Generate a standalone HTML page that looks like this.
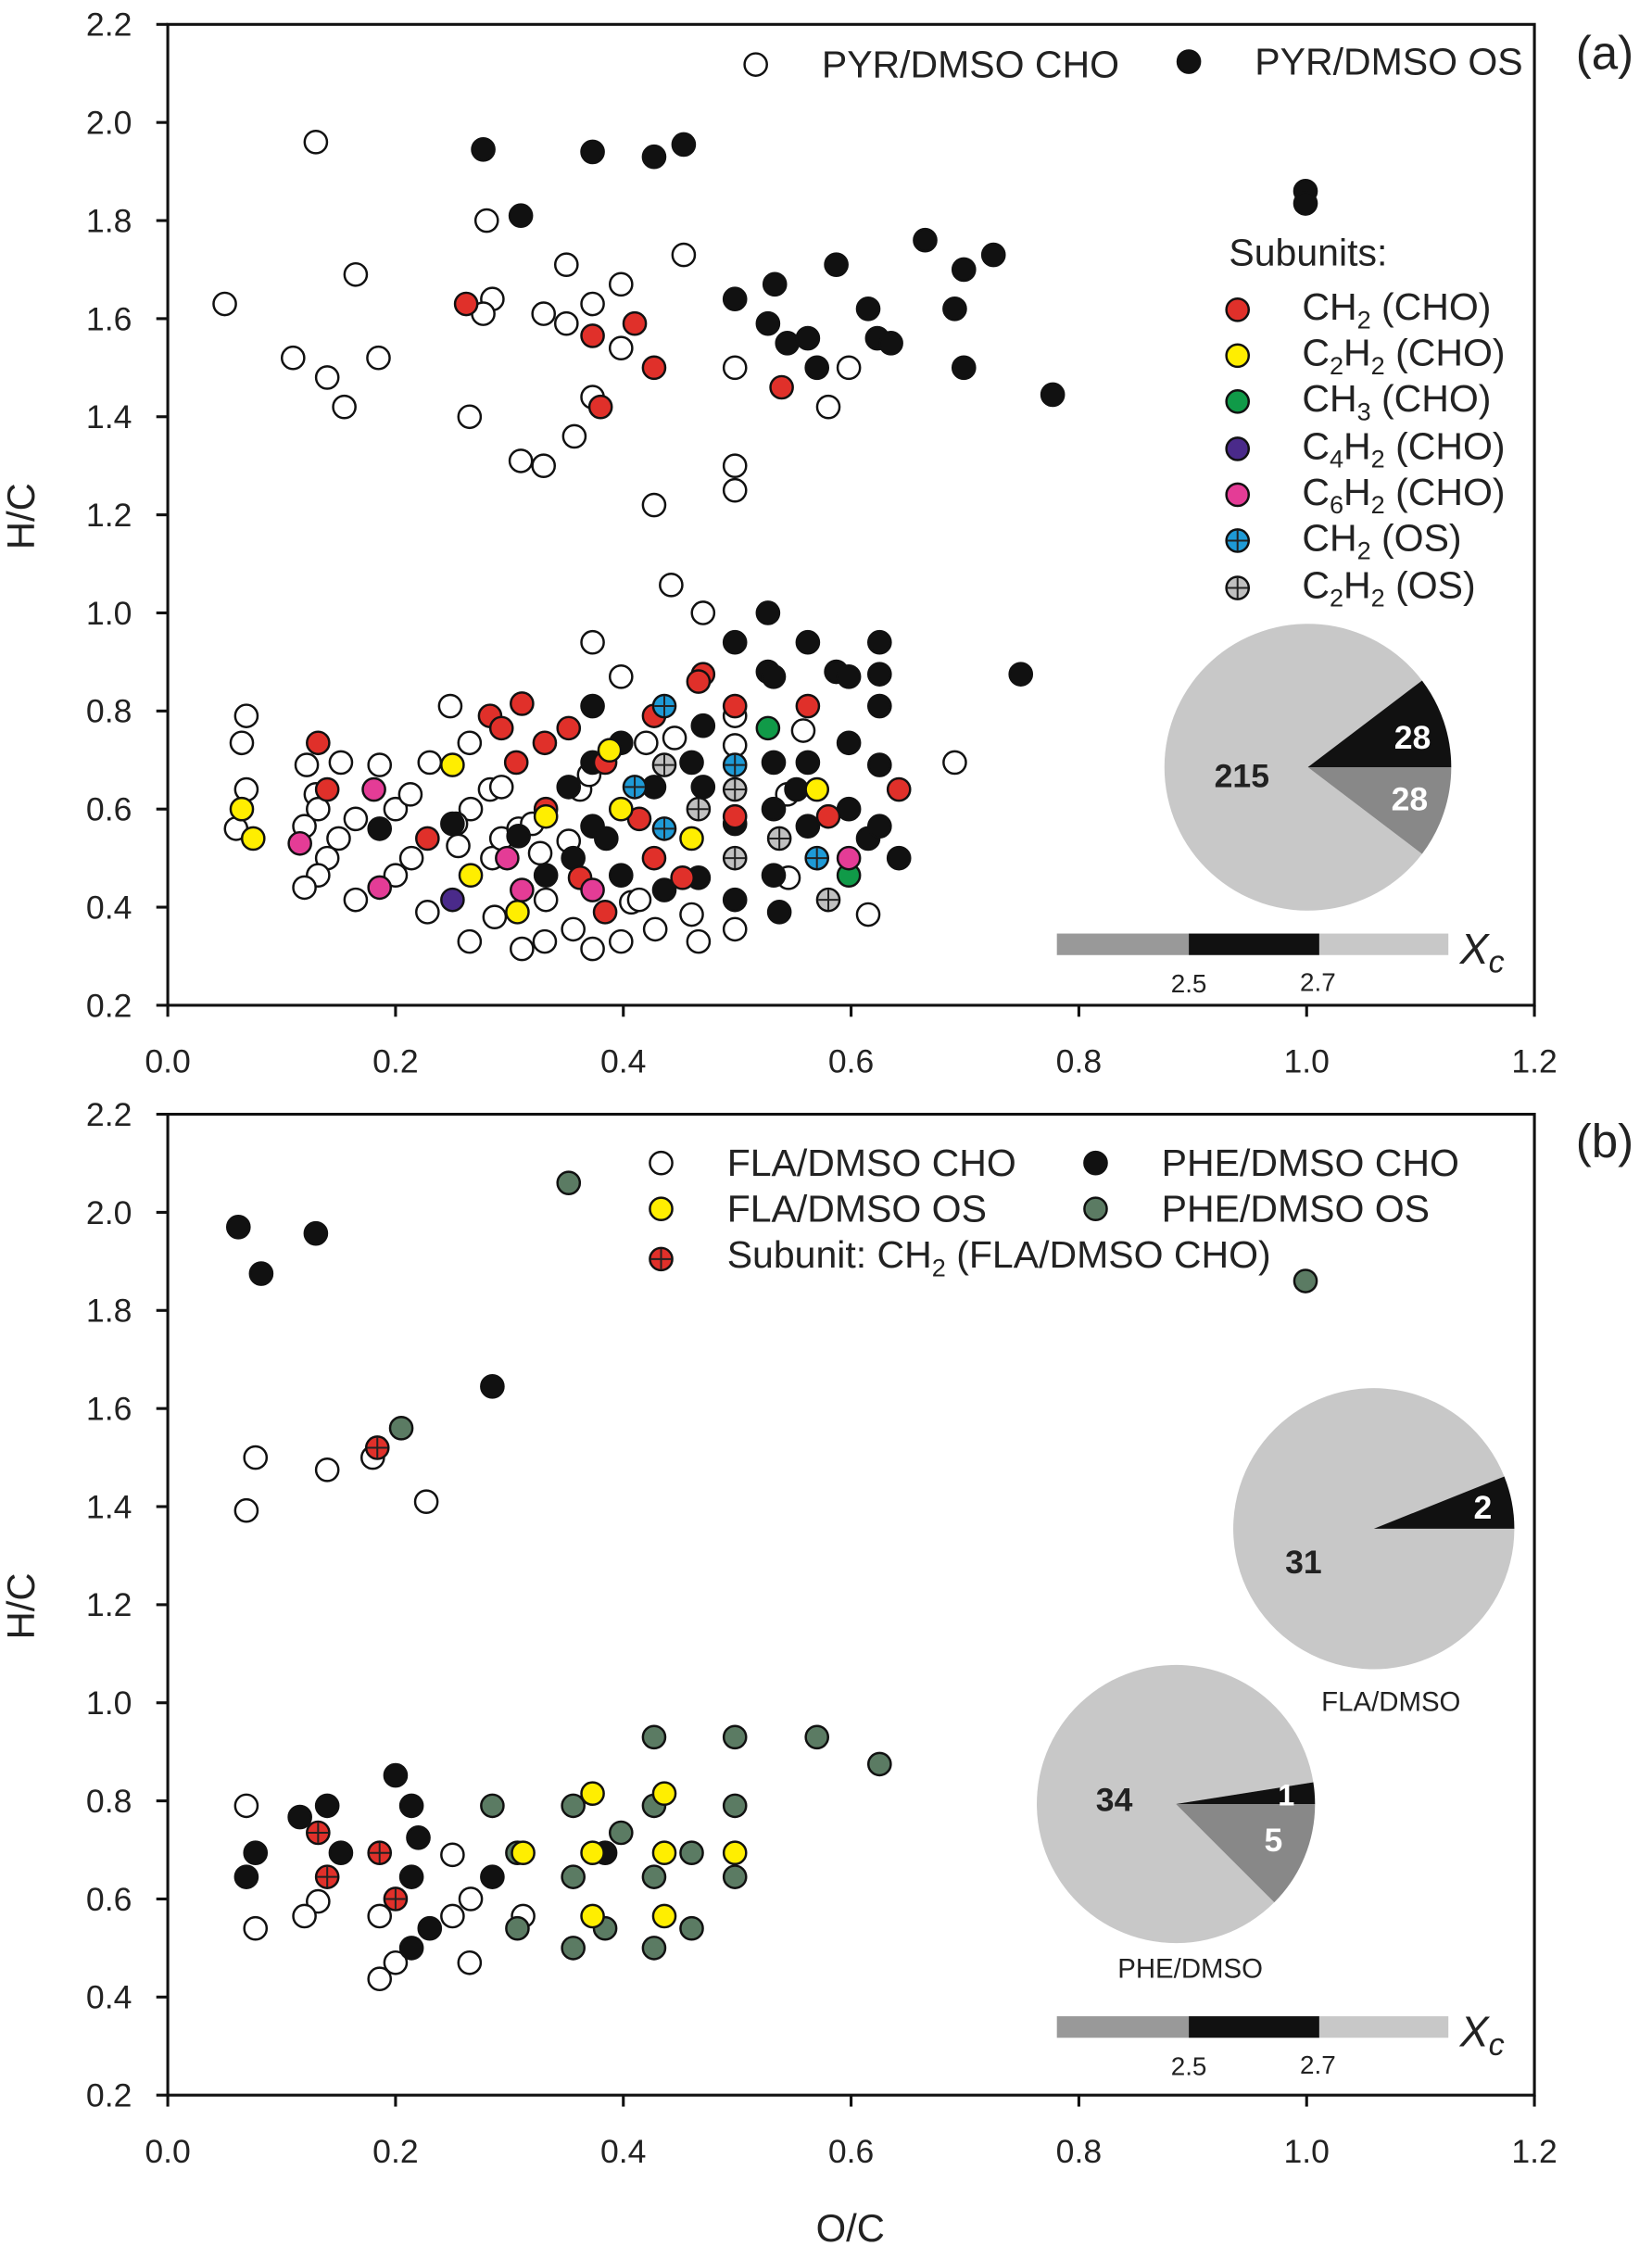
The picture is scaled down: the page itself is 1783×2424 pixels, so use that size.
<!DOCTYPE html>
<html><head><meta charset="utf-8"><style>
html,body{margin:0;padding:0;background:#fff}
svg{display:block;font-family:"Liberation Sans",Arial,sans-serif}
</style></head><body>
<svg id="chart" width="1783" height="2424" viewBox="0 0 1152 1566.2" preserveAspectRatio="none" xmlns="http://www.w3.org/2000/svg">
<g id="axes"></g>
<g id="pts"></g>
<g id="extras"></g>
</svg>
<script>
// ---------- data panel (a) ----------
const aChoX=[0.05,0.13,0.11,0.14,0.155,0.165,0.185,0.28,0.285,0.277,0.265,0.31,0.33,0.33,0.35,0.35,0.357,0.373,0.373,0.398,0.398,0.427,0.453,0.498,0.498,0.498,0.58,0.598,
0.069,0.065,0.069,0.06,0.122,0.152,0.13,0.132,0.12,0.15,0.14,0.132,0.12,0.165,0.165,0.186,0.2,0.2,0.214,0.213,0.23,0.228,0.248,0.265,0.266,0.253,0.255,0.265,0.283,0.293,0.285,0.287,0.293,0.311,0.308,0.331,0.332,0.32,0.352,0.356,0.362,0.373,0.373,0.398,0.398,0.407,0.414,0.428,0.442,0.47,0.46,0.466,0.498,0.498,0.498,0.544,0.545,0.558,0.615,0.691,0.42,0.37,0.445,0.327];
const aChoY=[1.63,1.96,1.52,1.48,1.42,1.69,1.52,1.80,1.64,1.61,1.40,1.31,1.61,1.30,1.71,1.59,1.36,1.63,1.44,1.67,1.54,1.22,1.73,1.50,1.30,1.25,1.42,1.50,
0.79,0.735,0.64,0.56,0.69,0.695,0.63,0.60,0.565,0.54,0.50,0.465,0.44,0.58,0.415,0.69,0.60,0.465,0.50,0.63,0.695,0.39,0.81,0.735,0.60,0.57,0.525,0.33,0.64,0.645,0.50,0.38,0.54,0.315,0.56,0.33,0.415,0.57,0.535,0.355,0.64,0.94,0.315,0.87,0.33,0.41,0.415,0.355,1.057,1.0,0.385,0.33,0.79,0.73,0.355,0.63,0.46,0.76,0.385,0.695,0.735,0.67,0.745,0.51];
const aOsX=[0.277,0.31,0.373,0.427,0.453,0.498,0.533,0.527,0.544,0.562,0.57,0.587,0.615,0.623,0.635,0.665,0.691,0.699,0.699,0.725,0.777,0.999,0.999,
0.186,0.25,0.308,0.332,0.356,0.352,0.373,0.373,0.385,0.373,0.398,0.398,0.427,0.436,0.466,0.47,0.46,0.47,0.498,0.498,0.498,0.527,0.527,0.532,0.532,0.532,0.532,0.537,0.562,0.562,0.562,0.587,0.598,0.598,0.598,0.615,0.625,0.625,0.625,0.625,0.625,0.642,0.749,0.552];
const aOsY=[1.945,1.81,1.94,1.93,1.955,1.64,1.67,1.59,1.55,1.56,1.50,1.71,1.62,1.56,1.55,1.76,1.62,1.70,1.50,1.73,1.445,1.86,1.835,
0.56,0.57,0.545,0.465,0.50,0.645,0.81,0.565,0.54,0.695,0.465,0.735,0.645,0.435,0.46,0.77,0.695,0.645,0.94,0.57,0.415,1.0,0.88,0.87,0.695,0.60,0.465,0.39,0.94,0.695,0.565,0.88,0.87,0.735,0.60,0.54,0.94,0.875,0.81,0.69,0.565,0.50,0.875,0.64];
const aRedX=[0.262,0.373,0.41,0.427,0.38,0.539,0.132,0.14,0.228,0.283,0.293,0.311,0.306,0.331,0.332,0.352,0.362,0.384,0.384,0.414,0.427,0.427,0.47,0.466,0.452,0.498,0.498,0.562,0.58,0.642];
const aRedY=[1.63,1.565,1.59,1.50,1.42,1.46,0.735,0.64,0.54,0.79,0.765,0.815,0.695,0.735,0.60,0.765,0.46,0.39,0.695,0.58,0.50,0.79,0.875,0.86,0.46,0.81,0.585,0.81,0.585,0.64];
const aYelX=[0.065,0.075,0.25,0.266,0.332,0.307,0.388,0.398,0.46,0.57];
const aYelY=[0.60,0.54,0.69,0.465,0.585,0.39,0.72,0.60,0.54,0.64];
const aGrnX=[0.527,0.598], aGrnY=[0.765,0.465];
const aPurX=[0.25], aPurY=[0.415];
const aMagX=[0.116,0.181,0.186,0.298,0.311,0.373,0.598];
const aMagY=[0.53,0.64,0.44,0.50,0.435,0.435,0.50];
const aBluX=[0.436,0.41,0.436,0.498,0.57], aBluY=[0.81,0.645,0.56,0.69,0.50];
const aGryX=[0.436,0.466,0.498,0.498,0.537,0.58], aGryY=[0.69,0.60,0.64,0.50,0.54,0.415];
const pieA=[215,28,28];
// ---------- data panel (b) ----------
const bPheChoX=[0.062,0.082,0.13,0.285,0.116,0.14,0.077,0.069,0.152,0.2,0.214,0.22,0.214,0.214,0.23,0.285,0.384];
const bPheChoY=[1.97,1.875,1.957,1.645,0.767,0.79,0.694,0.645,0.694,0.852,0.79,0.725,0.645,0.50,0.54,0.645,0.694];
const bPheOsX=[0.352,0.999,0.205,0.285,0.307,0.307,0.356,0.356,0.356,0.384,0.398,0.427,0.427,0.427,0.427,0.46,0.46,0.498,0.498,0.498,0.57,0.625];
const bPheOsY=[2.06,1.86,1.56,0.79,0.694,0.54,0.79,0.645,0.50,0.54,0.735,0.93,0.79,0.645,0.50,0.694,0.54,0.93,0.79,0.645,0.93,0.875];
const bFlaOsX=[0.373,0.436,0.312,0.373,0.436,0.498,0.373,0.436];
const bFlaOsY=[0.815,0.815,0.694,0.694,0.694,0.694,0.565,0.565];
const bFlaChoX=[0.077,0.069,0.14,0.18,0.227,0.069,0.077,0.132,0.12,0.186,0.2,0.186,0.25,0.25,0.266,0.265,0.312];
const bFlaChoY=[1.50,1.392,1.475,1.50,1.41,0.79,0.54,0.595,0.565,0.565,0.47,0.437,0.69,0.565,0.60,0.47,0.565];
const bRedX=[0.184,0.132,0.14,0.186,0.2], bRedY=[1.52,0.735,0.645,0.694,0.60];
const pieFla=[31,2];
const pieP=[34,1,5];
const xTicks=["0.0","0.2","0.4","0.6","0.8","1.0","1.2"];
const yTicks=["0.2","0.4","0.6","0.8","1.0","1.2","1.4","1.6","1.8","2.0","2.2"];

const NS="http://www.w3.org/2000/svg";
const L=117,R=1070;
function xs(v){return L+v*(R-L)/1.2;}
function ysA(v){return 17+(2.2-v)*342;}
function ysB(v){return 777+(2.2-v)*342;}
function mk(tag,at,parent){const e=document.createElementNS(NS,tag);for(const k in at)e.setAttribute(k,at[k]);(parent||document.getElementById('pts')).appendChild(e);return e;}
const axes=document.getElementById('axes'), ex=document.getElementById('extras');

function drawAxes(top,ys,name){
  const fr=mk('rect',{x:L,y:top,width:R-L,height:684,fill:'none',stroke:'#111','stroke-width':2},axes);
  
  
  xTicks.forEach(t=>{const v=parseFloat(t),x=xs(v);
    mk('line',{x1:x,y1:top+684,x2:x,y2:top+692,stroke:'#111','stroke-width':2},axes);
    const tx=mk('text',{x:x,y:top+731,'font-size':23,'text-anchor':'middle',fill:'#222'},axes);tx.textContent=t;
    
    });
  yTicks.forEach(t=>{const v=parseFloat(t),y=ys(v);
    mk('line',{x1:L-8,y1:y,x2:L,y2:y,stroke:'#111','stroke-width':2},axes);
    const tx=mk('text',{x:92,y:y+8,'font-size':23,'text-anchor':'end',fill:'#222'},axes);tx.textContent=t;
    
    });
  const yt=mk('text',{x:24,y:top+343,'font-size':27,'text-anchor':'middle',fill:'#222',transform:`rotate(-90 24 ${top+343})`},axes);
  yt.textContent='H/C';
  
  
}
drawAxes(17,ysA,'panel-a');
drawAxes(777,ysB,'panel-b');

function dot(x,y,fill,cross,nm){
  const c=mk('circle',{cx:x,cy:y,r:7.8,fill:fill,stroke:'#111','stroke-width':1.6});
  
  
  if(cross){mk('line',{x1:x-7,y1:y,x2:x+7,y2:y,stroke:'#222','stroke-width':1.3});mk('line',{x1:x,y1:y-7,x2:x,y2:y+7,stroke:'#222','stroke-width':1.3});}
}
function series(X,Y,ys,fill,cross,nm){X.forEach((v,i)=>dot(xs(v),ys(Y[i]),fill,cross,nm));}
series(aChoX,aChoY,ysA,'#fff',false,'pyr-cho-point');
series(aOsX,aOsY,ysA,'#111',false,'pyr-os-point');
series(aRedX,aRedY,ysA,'#e0302a',false,'ch2-cho-point');
series(aYelX,aYelY,ysA,'#ffee00',false,'c2h2-cho-point');
series(aGrnX,aGrnY,ysA,'#109a48',false,'ch3-cho-point');
series(aPurX,aPurY,ysA,'#4a2a8a',false,'c4h2-cho-point');
series(aMagX,aMagY,ysA,'#e43c96',false,'c6h2-cho-point');
series(aBluX,aBluY,ysA,'#1e9ad6',true,'ch2-os-point');
series(aGryX,aGryY,ysA,'#c0c0c0',true,'c2h2-os-point');
series(bFlaChoX,bFlaChoY,ysB,'#fff',false,'fla-cho-point');
series(bPheChoX,bPheChoY,ysB,'#111',false,'phe-cho-point');
series(bPheOsX,bPheOsY,ysB,'#5b7b63',false,'phe-os-point');
series(bFlaOsX,bFlaOsY,ysB,'#ffee00',false,'fla-os-point');
series(bRedX,bRedY,ysB,'#e0302a',true,'ch2-fla-cho-point');

function txt(x,y,s,size,opts,nm){const t=mk('text',Object.assign({x:x,y:y,'font-size':size,fill:'#222'},opts||{}),ex);t.innerHTML=s;
  
  return t;}
function sub(s){return `<tspan dy="6" font-size="17.5">${s}</tspan><tspan dy="-6">`;}
function ldot(x,y,fill,cross,nm){const c=mk('circle',{cx:x,cy:y,r:7.8,fill:fill,stroke:'#111','stroke-width':1.6},ex);
  
  
  if(cross){mk('line',{x1:x-7,y1:y,x2:x+7,y2:y,stroke:'#222','stroke-width':1.3},ex);mk('line',{x1:x,y1:y-7,x2:x,y2:y+7,stroke:'#222','stroke-width':1.3},ex);}}
const LF=26.5;
ldot(527,45,'#fff',false,'legend-pyr-cho-marker');txt(573,54,'PYR/DMSO CHO',LF,{},'legend-pyr-cho');
ldot(829,43,'#111',false,'legend-pyr-os-marker');txt(875,52,'PYR/DMSO OS',LF,{},'legend-pyr-os');
txt(857,185,'Subunits:',LF,{},'legend-subunits-title');
const subs=[['#e0302a',false,'CH'+sub('2')+' (CHO)</tspan>'],['#ffee00',false,'C'+sub('2')+'H'+sub('2')+' (CHO)</tspan></tspan>'],['#109a48',false,'CH'+sub('3')+' (CHO)</tspan>'],['#4a2a8a',false,'C'+sub('4')+'H'+sub('2')+'  (CHO)</tspan></tspan>'],['#e43c96',false,'C'+sub('6')+'H'+sub('2')+'  (CHO)</tspan></tspan>'],['#1e9ad6',true,'CH'+sub('2')+' (OS)</tspan>'],['#c0c0c0',true,'C'+sub('2')+'H'+sub('2')+' (OS)</tspan></tspan>']];
const subY=[216,248,280,313,345,377,410];
subs.forEach((s,i)=>{ldot(863,subY[i],s[0],s[1],'legend-subunit-marker');txt(908,subY[i]+7,s[2],LF,{},'legend-subunit-entry');});
ldot(461,811,'#fff',false,'legend-fla-cho-marker');txt(507,820,'FLA/DMSO CHO',LF,{},'legend-fla-cho');
ldot(461,843,'#ffee00',false,'legend-fla-os-marker');txt(507,852,'FLA/DMSO OS',LF,{},'legend-fla-os');
ldot(461,878,'#e0302a',true,'legend-ch2-marker');txt(507,884,'Subunit: CH'+sub('2')+' (FLA/DMSO CHO)</tspan>',LF,{},'legend-ch2-subunit');
ldot(764,811,'#111',false,'legend-phe-cho-marker');txt(810,820,'PHE/DMSO CHO',LF,{},'legend-phe-cho');
ldot(764,843,'#5b7b63',false,'legend-phe-os-marker');txt(810,852,'PHE/DMSO OS',LF,{},'legend-phe-os');
txt(1119,48,'(a)',33,{'text-anchor':'middle'},'panel-a-label');
txt(1119,807,'(b)',33,{'text-anchor':'middle'},'panel-b-label');
txt(593,1563,'O/C',27,{'text-anchor':'middle'},'x-axis-title');

function pie(cx,cy,r,vals,nm){
  const tot=vals.reduce((a,b)=>a+b,0);
  const aB=(vals[1]/tot)*2*Math.PI, aG=vals.length>2?(vals[2]/tot)*2*Math.PI:0;
  function pt(a){return [cx+r*Math.cos(a),cy+r*Math.sin(a)];}
  const p1=pt(-aB),p2=pt(aG);
  const bg=mk('path',{d:`M${cx},${cy}L${p2[0]},${p2[1]}A${r},${r} 0 1 1 ${p1[0]},${p1[1]}Z`,fill:'#c8c8c8'},ex);
  
  
  const e=pt(0);
  const bk=mk('path',{d:`M${cx},${cy}L${p1[0]},${p1[1]}A${r},${r} 0 0 1 ${e[0]},${e[1]}Z`,fill:'#111'},ex);
  
  
  if(aG>0){const gr=mk('path',{d:`M${cx},${cy}L${e[0]},${e[1]}A${r},${r} 0 0 1 ${p2[0]},${p2[1]}Z`,fill:'#888'},ex);
    
    }
}
pie(912,535,100,pieA,'pie-pyr');
txt(866,549,String(pieA[0]),23,{'font-weight':'bold','text-anchor':'middle'},'pie-pyr-label-main');
txt(985,522,String(pieA[1]),23,{'font-weight':'bold','text-anchor':'middle',fill:'#fff'},'pie-pyr-label-black');
txt(983,565,String(pieA[2]),23,{'font-weight':'bold','text-anchor':'middle',fill:'#fff'},'pie-pyr-label-gray');
pie(958,1066,98,pieFla,'pie-fla');
txt(909,1097,String(pieFla[0]),23,{'font-weight':'bold','text-anchor':'middle'},'pie-fla-label-main');
txt(1034,1059,String(pieFla[1]),23,{'font-weight':'bold','text-anchor':'middle',fill:'#fff'},'pie-fla-label-black');
txt(970,1193,'FLA/DMSO',19,{'text-anchor':'middle'},'pie-fla-title');
pie(820,1258,97,pieP,'pie-phe');
txt(777,1263,String(pieP[0]),23,{'font-weight':'bold','text-anchor':'middle'},'pie-phe-label-main');
txt(897,1259,String(pieP[1]),21,{'font-weight':'bold','text-anchor':'middle',fill:'#fff'},'pie-phe-label-black');
txt(888,1291,String(pieP[2]),23,{'font-weight':'bold','text-anchor':'middle',fill:'#fff'},'pie-phe-label-gray');
txt(830,1379,'PHE/DMSO',19,{'text-anchor':'middle'},'pie-phe-title');
function xcbar(y,nm){
  [[737,829,'#999'],[829,920,'#111'],[920,1010,'#c8c8c8']].forEach(s=>{const r=mk('rect',{x:s[0],y:y,width:s[1]-s[0],height:15,fill:s[2]},ex);
    
    });
  txt(829,y+41,'2.5',18,{'text-anchor':'middle'},nm+'-label-2-5');
  txt(919,y+40,'2.7',18,{'text-anchor':'middle'},nm+'-label-2-7');
  txt(1018,y+21,'X<tspan font-size="22" dy="6">c</tspan>',30,{'font-style':'italic'},nm+'-title');
}
xcbar(651,'xc-bar-a');
xcbar(1406,'xc-bar-b');
</script>
</body></html>
